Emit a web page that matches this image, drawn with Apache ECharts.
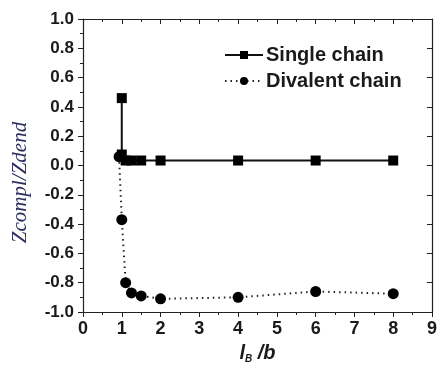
<!DOCTYPE html>
<html>
<head>
<meta charset="utf-8">
<script src="https://cdn.jsdelivr.net/npm/echarts@6/dist/echarts.min.js"></script>
<style>
  html, body { margin: 0; padding: 0; background: #fff; }
  #chart { width: 440px; height: 371px; }
</style>
</head>
<body>
<div id="chart"></div>
<script>
// values: [lB/b, Zcompl/Zdend]
var singleX = [1.0, 1.0, 1.1, 1.25, 1.5, 2, 4, 6, 8];
var singleY = [0.46, 0.075, 0.034, 0.034, 0.034, 0.034, 0.034, 0.034, 0.034];
var divalentX = [0.93, 1.0, 1.1, 1.25, 1.5, 2, 4, 6, 8];
var divalentY = [0.06, -0.37, -0.80, -0.87, -0.89, -0.91, -0.90, -0.86, -0.875];
var xTicks = [0, 1, 2, 3, 4, 5, 6, 7, 8, 9];
var yTicks = ['-1.0', '-0.8', '-0.6', '-0.4', '-0.2', '0.0', '0.2', '0.4', '0.6', '0.8', '1.0'];

function pairs(xs, ys) {
    var out = [];
    for (var i = 0; i < xs.length; i++) out.push([xs[i], ys[i]]);
    return out;
}

var chart = echarts.init(document.getElementById('chart'));
var bold = {fontFamily: 'Liberation Sans', fontWeight: 'bold', color: '#1a1a1a'};
var axLine = {onZero: false, lineStyle: {color: '#222', width: 1.2}};

chart.setOption({
    animation: false,
    grid: {left: 83, right: 4, top: 19, bottom: 59},
    legend: {
        left: 219, top: 40, orient: 'vertical',
        itemWidth: 38, itemHeight: 10, itemGap: 6,
        textStyle: Object.assign({fontSize: 20, padding: [0, 0, 0, -2]}, bold),
        data: ['Single chain', 'Divalent chain']
    },
    xAxis: [{
        type: 'value', min: 0, max: 9, interval: 1,
        axisLine: axLine,
        axisTick: {inside: false, length: 5, lineStyle: {color: '#222'}},
        minorTick: {show: true, splitNumber: 2, length: 3, lineStyle: {color: '#222'}},
        splitLine: {show: false},
        axisLabel: Object.assign({margin: 8, fontSize: 18, formatter: function (v) { return xTicks[v]; }}, bold),
        name: '{i|l}{s|B}{i| /b}',
        nameLocation: 'middle', nameGap: 30,
        nameTextStyle: {
            rich: {
                i: {fontFamily: 'Liberation Sans', fontStyle: 'italic', fontWeight: 'bold', fontSize: 20, color: '#1a1a1a'},
                s: {fontFamily: 'Liberation Sans', fontStyle: 'italic', fontWeight: 'bold', fontSize: 10, color: '#1a1a1a', verticalAlign: 'bottom', padding: [12, 0, 0, 0]}
            }
        }
    }, {
        type: 'value', position: 'top', min: 0, max: 9, interval: 1,
        axisLine: axLine,
        axisTick: {inside: true, length: 5, lineStyle: {color: '#222'}},
        minorTick: {show: true, splitNumber: 2, length: 3, lineStyle: {color: '#222'}},
        splitLine: {show: false},
        axisLabel: {show: false}
    }],
    yAxis: [{
        type: 'value', min: -1, max: 1, interval: 0.2,
        axisLine: axLine,
        axisTick: {inside: false, length: 5, lineStyle: {color: '#222'}},
        minorTick: {show: true, splitNumber: 2, length: 3, lineStyle: {color: '#222'}},
        splitLine: {show: false},
        axisLabel: Object.assign({margin: 9, fontSize: 17, formatter: function (v) { return yTicks[Math.round((v + 1) * 5)]; }}, bold),
        name: 'Zcompl/Zdend',
        nameLocation: 'middle', nameRotate: 90, nameGap: 52,
        nameTextStyle: {fontFamily: 'Liberation Serif', fontStyle: 'italic', fontSize: 21, color: '#2b2d5c', padding: [0, 34, 0, 0]}
    }, {
        type: 'value', position: 'right', min: -1, max: 1, interval: 0.2,
        axisLine: axLine,
        axisTick: {inside: true, length: 5, lineStyle: {color: '#222'}},
        minorTick: {show: false},
        splitLine: {show: false},
        axisLabel: {show: false}
    }],
    series: [{
        name: 'Single chain', type: 'line',
        data: pairs(singleX, singleY),
        symbol: 'rect', symbolSize: 10,
        itemStyle: {color: '#000'},
        lineStyle: {color: '#111', width: 2}
    }, {
        name: 'Divalent chain', type: 'line',
        data: pairs(divalentX, divalentY),
        symbol: 'circle', symbolSize: 11,
        itemStyle: {color: '#000'},
        lineStyle: {color: '#222', width: 2, type: [1.5, 4]}
    }]
});
</script>
</body>
</html>
